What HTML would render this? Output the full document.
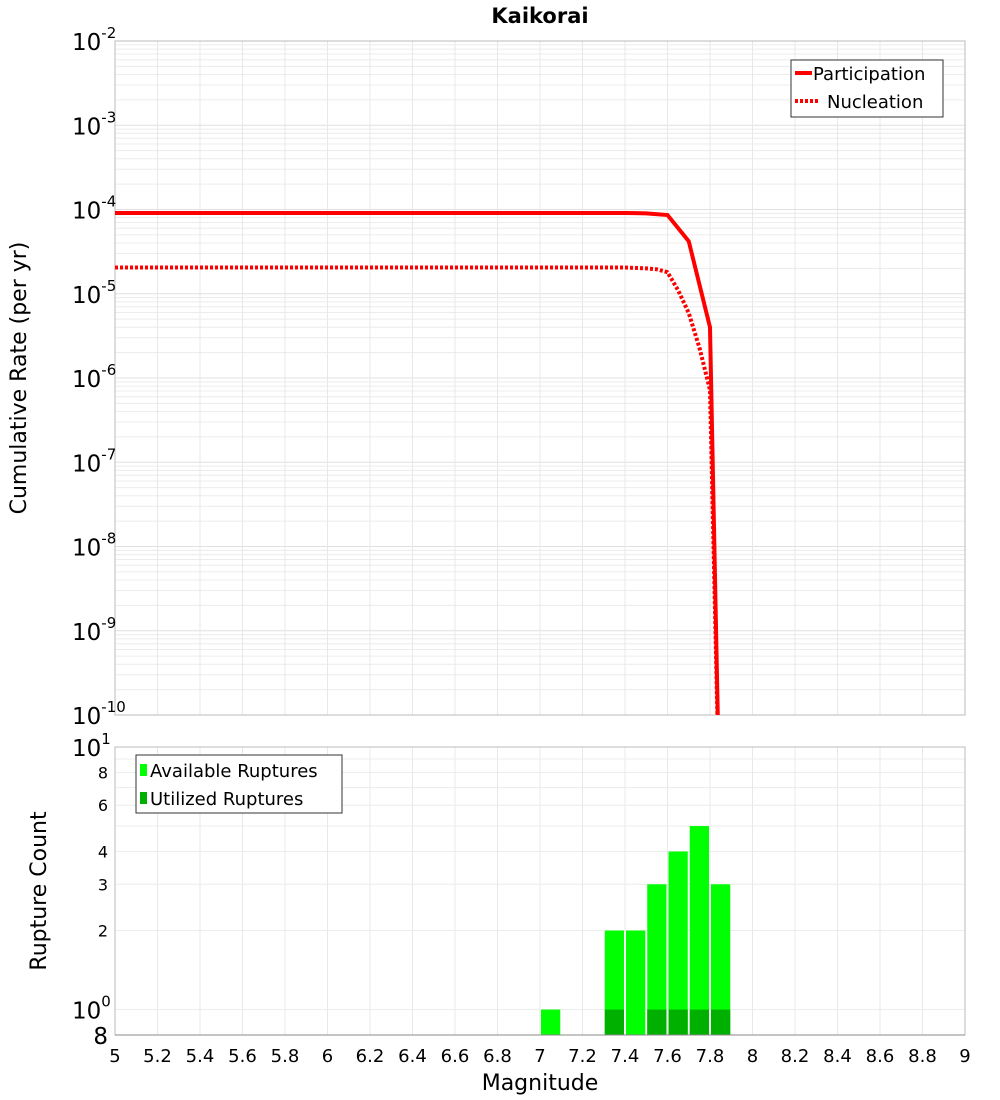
<!DOCTYPE html>
<html><head><meta charset="utf-8"><style>
html,body{margin:0;padding:0;background:#fff;}
svg{display:block;font-family:"DejaVu Sans","Liberation Sans",sans-serif;}
</style></head><body>
<svg id="chart" width="1000" height="1100" viewBox="0 0 1000 1100" xmlns="http://www.w3.org/2000/svg">
<text x="540" y="23" font-size="21" font-weight="bold" text-anchor="middle">Kaikorai</text>
<g id="topg"></g>
<g id="botg"></g>
<text transform="translate(26,378) rotate(-90)" font-size="22" text-anchor="middle">Cumulative Rate (per yr)</text>
<text transform="translate(46,891) rotate(-90)" font-size="22" text-anchor="middle">Rupture Count</text>
<text x="540" y="1090" font-size="22" text-anchor="middle">Magnitude</text>
<g>
<rect x="791" y="60" width="152" height="57" fill="#fff" stroke="#333"/>
<line x1="795" y1="73" x2="812" y2="73" stroke="red" stroke-width="4"/>
<text x="813" y="80" font-size="18">Participation</text>
<line x1="795" y1="101" x2="820" y2="101" stroke="red" stroke-width="4" stroke-dasharray="3,2"/>
<text x="827" y="108" font-size="18">Nucleation</text>
</g>
<g>
<rect x="136" y="755" width="206" height="58" fill="#fff" stroke="#333"/>
<rect x="140" y="764" width="7" height="12" fill="#00ff00"/>
<text x="150" y="777" font-size="18">Available Ruptures</text>
<rect x="140" y="792" width="7" height="12" fill="#00b000"/>
<text x="150" y="805" font-size="18">Utilized Ruptures</text>
</g>
</svg>
<script>
const partMags=[5,5.5,6,6.5,7,7.4,7.5,7.6,7.7,7.8,7.85];
const partRates=[9.1e-5,9.1e-5,9.1e-5,9.1e-5,9.1e-5,9.1e-5,9.0e-5,8.6e-5,4.2e-5,4.0e-6,2e-12];
const nuclMags=[5,5.5,6,6.5,7,7.4,7.5,7.55,7.6,7.65,7.7,7.75,7.8,7.85];
const nuclRates=[2.05e-5,2.05e-5,2.05e-5,2.05e-5,2.05e-5,2.05e-5,2.0e-5,1.95e-5,1.8e-5,1.1e-5,5.9e-6,2.3e-6,7.2e-7,2e-12];
const binStarts=[7.0,7.3,7.4,7.5,7.6,7.7,7.8];
const availCounts=[1,2,2,3,4,5,3];
const usedCounts=[0,1,0,1,1,1,1];
const xTicks=[5,5.2,5.4,5.6,5.8,6,6.2,6.4,6.6,6.8,7,7.2,7.4,7.6,7.8,8,8.2,8.4,8.6,8.8,9];

const NS="http://www.w3.org/2000/svg";
const L=115,R=965,T1=41,B1=715,T2=747,B2=1035;
const xS=m=>L+(m-5)/4*(R-L);
const yTop=v=>T1+(-2-Math.log10(v))/8*(B1-T1);
const yBot=v=>T2+(1-Math.log10(v))/(1-Math.log10(0.8))*(B2-T2);
function mk(p,tag,a){const e=document.createElementNS(NS,tag);for(const k in a)e.setAttribute(k,a[k]);p.appendChild(e);return e;}
const gTop=document.getElementById('topg'),gBot=document.getElementById('botg');
for(let d=-10;d<-2;d++)for(let k=1;k<10;k++){const y=yTop(k*Math.pow(10,d));const g=mk(gTop,'line',{x1:L,x2:R,y1:y,y2:y,stroke:k==1?'#e0e0e0':'#ececec','stroke-width':1});

}
xTicks.forEach(m=>{const x=xS(m);const g=mk(gTop,'line',{x1:x,x2:x,y1:T1,y2:B1,stroke:'#e8e8e8'});


const g2=mk(gBot,'line',{x1:x,x2:x,y1:T2,y2:B2,stroke:'#e8e8e8'});


const t=mk(gBot,'text',{x:x,y:1062,'font-size':18,'text-anchor':'middle'});t.textContent=String(m);

});
const topBox=mk(gTop,'rect',{x:L,y:T1,width:R-L,height:B1-T1,fill:'none',stroke:'#bbb'});


for(let d=-10;d<=-2;d++){const y=yTop(Math.pow(10,d));const t=mk(gTop,'text',{x:72,y:y+9,'font-size':23});


t.innerHTML='10<tspan dy="-12" font-size="15">'+d+'</tspan>';}
const cp=mk(gTop,'clipPath',{id:'clipTop'});mk(cp,'rect',{x:L,y:T1,width:R-L,height:B1-T1});
function line(p,ms,vs,dash,name){const pts=ms.map((m,i)=>xS(m)+','+yTop(vs[i])).join(' ');
const e=mk(p,'polyline',{points:pts,fill:'none',stroke:'red','stroke-width':4,'stroke-dasharray':dash,'clip-path':'url(#clipTop)'});

}
line(gTop,nuclMags,nuclRates,'3,2','nucleation-line');
line(gTop,partMags,partRates,'none','participation-line');
[1,2,3,4,5,6,7,8,9,10].forEach(v=>{const y=yBot(v);const g=mk(gBot,'line',{x1:L,x2:R,y1:y,y2:y,stroke:'#ececec'});

});
const yl=[[10,'10','1'],[8,'8'],[6,'6'],[4,'4'],[3,'3'],[2,'2'],[1,'10','0'],[0.8,'8']];
yl.forEach(a=>{const y=yBot(a[0]);const big=a.length>2||a[0]==0.8;const t=mk(gBot,'text',{x:108,y:y+(big?9:6),'font-size':big?23:16,'text-anchor':'end'});


if(a[2]){t.setAttribute('text-anchor','start');t.setAttribute('x',72);t.innerHTML='10<tspan dy="-12" font-size="15">'+a[2]+'</tspan>';}else t.textContent=a[1];});
binStarts.forEach((m,i)=>{const x0=xS(m)+1,w=xS(m+0.1)-xS(m)-2;
const yA=yBot(availCounts[i]);const r=mk(gBot,'rect',{x:x0,y:yA,width:w,height:B2-yA,fill:'#00ff00'});


if(usedCounts[i]>0){const yU=yBot(usedCounts[i]);const u=mk(gBot,'rect',{x:x0,y:yU,width:w,height:B2-yU,fill:'#00b000'});

}});
const botBox=mk(gBot,'rect',{x:L,y:T2,width:R-L,height:B2-T2,fill:'none',stroke:'#bbb'});


mk(gBot,'line',{x1:L,x2:R,y1:B2,y2:B2,stroke:'#888'});
</script>
</body></html>
